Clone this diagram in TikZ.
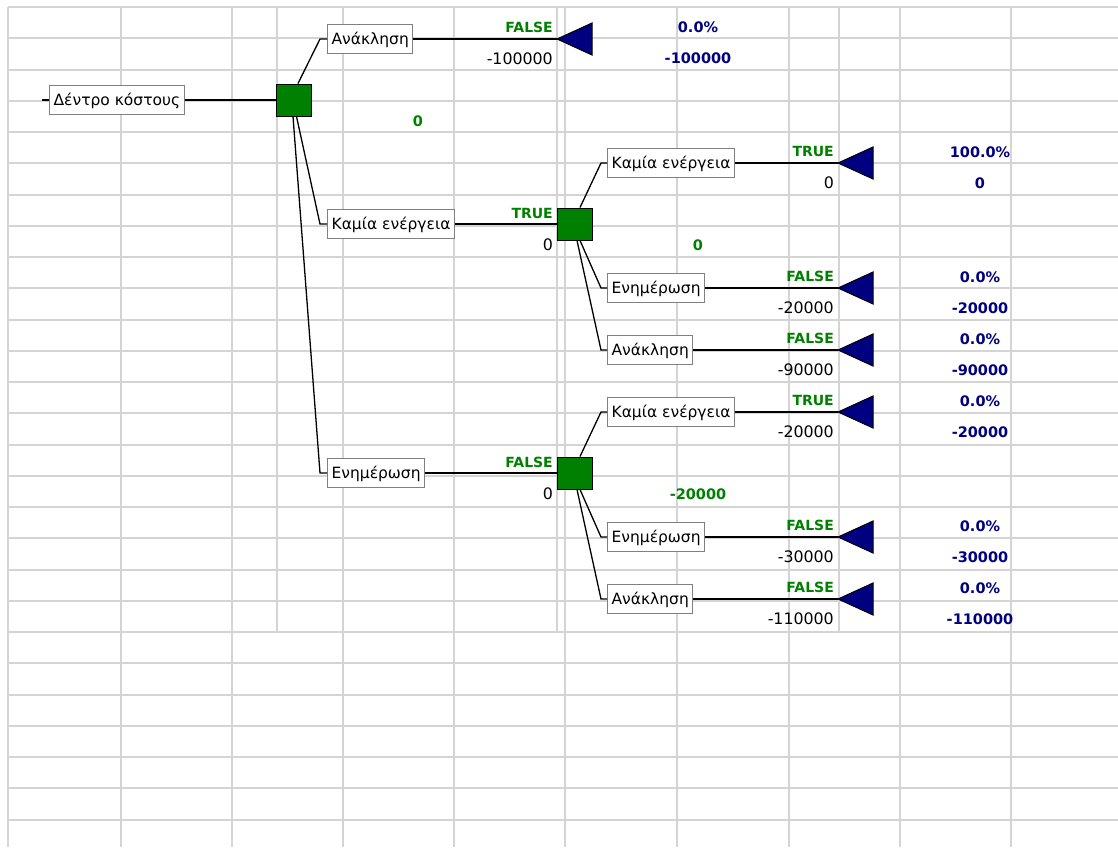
\documentclass[tikz,border=0pt]{standalone}
\usepackage{fontspec}
\setmainfont{DejaVu Sans}
\definecolor{dgreen}{RGB}{0,128,0}
\definecolor{dnavy}{RGB}{0,0,128}
\definecolor{gridc}{RGB}{212,212,212}
\definecolor{boxc}{RGB}{128,128,128}
\begin{document}
\begin{tikzpicture}[x=1pt,y=-1pt,
  gridline/.style={draw=gridc,line width=2pt},
  conn/.style={draw=black,line width=1.3pt},
  decnode/.style={draw=black,fill=dgreen,line width=1pt,minimum width=35pt,minimum height=32pt,inner sep=0pt},
  termtri/.style={draw=black,fill=dnavy,line width=1pt,line join=miter},
  branchbox/.style={draw=boxc,fill=white,line width=1.2pt,font=\fontsize{15.5}{18}\selectfont,inner xsep=4pt,inner ysep=0pt,text height=11.2pt,text depth=0pt,minimum height=29pt,anchor=west},
  tflab/.style={text=dgreen,font=\bfseries\fontsize{14}{16}\selectfont,anchor=east,inner sep=0pt},
  vallab/.style={text=black,font=\fontsize{15.8}{18}\selectfont,anchor=east,inner sep=0pt},
  problab/.style={text=dnavy,font=\bfseries\fontsize{14.5}{17}\selectfont,inner sep=0pt},
  evlab/.style={text=dgreen,font=\bfseries\fontsize{14.5}{17}\selectfont,inner sep=0pt}
]
\useasboundingbox[fill=white] (0,0) rectangle (1118,847);
% grid
\foreach \k in {0,...,26} \draw[gridline] (8,{7+31.25*\k}) -- (1118,{7+31.25*\k});
\foreach \xx in {8,121,232,277,343,454,557,565,677,789,839,900,1011} \draw[gridline] (\xx,7) -- (\xx,632);
\foreach \xx in {8,121,232,343,454,565,677,789,900,1011} \draw[gridline] (\xx,632) -- (\xx,847);

% root
\coordinate (rootin) at (42,100);
\node[branchbox] (root) at (49,100) {Δέντρο κόστους};
\node[decnode] (d1) at (293.5,100) {};
\draw[conn] (rootin) -- (root.west);
\draw[conn] (root.east) -- (d1.west);
\node[evlab] (ev1) at (418,121) {0};

% level 1
\node[branchbox] (b1) at (327,39) {Ανάκληση};
\node[branchbox] (b2) at (327,224) {Καμία ενέργεια};
\node[branchbox] (b3) at (327,473) {Ενημέρωση};
\coordinate (k1) at (320,39);
\coordinate (k2) at (320,224);
\coordinate (k3) at (320,473);
\draw[conn] ([xshift=4.5pt]d1.north) -- (k1) -- (b1.west);
\draw[conn] ([xshift=3pt]d1.south) -- (k2) -- (b2.west);
\draw[conn] ([xshift=-0.5pt]d1.south) -- (k3) -- (b3.west);

\coordinate (t1) at (557,39);
\draw[conn] (b1.east) -- (t1);
\draw[termtri] (t1) -- ++(35,-16) -- ++(0,32) -- cycle;
\node[tflab] (tf1) at (553,27.5) {FALSE};
\node[vallab] (v1) at (553,58.5) {-100000};
\node[problab] (p1) at (698,27) {0.0\%};
\node[problab] (r1) at (698,58.5) {-100000};

\node[decnode] (d2) at (574.5,224) {};
\draw[conn] (b2.east) -- (d2.west);
\node[tflab] (tf2) at (553,213) {TRUE};
\node[vallab] (v2) at (553,245) {0};
\node[evlab] (ev2) at (698,245) {0};

\node[decnode] (d3) at (574.5,473) {};
\draw[conn] (b3.east) -- (d3.west);
\node[tflab] (tf3) at (553,462.5) {FALSE};
\node[vallab] (v3) at (553,494) {0};
\node[evlab] (ev3) at (698,494) {-20000};

% level 2 under d2
\node[branchbox] (c1) at (607,163) {Καμία ενέργεια};
\node[branchbox] (c2) at (607,288) {Ενημέρωση};
\node[branchbox] (c3) at (607,350) {Ανάκληση};
\coordinate (m1) at (601,163);
\coordinate (m2) at (601,288);
\coordinate (m3) at (601,350);
\draw[conn] ([xshift=5.5pt]d2.north) -- (m1) -- (c1.west);
\draw[conn] ([xshift=5.5pt]d2.south) -- (m2) -- (c2.west);
\draw[conn] ([xshift=2.5pt]d2.south) -- (m3) -- (c3.west);

% level 2 under d3
\node[branchbox] (c4) at (607,412) {Καμία ενέργεια};
\node[branchbox] (c5) at (607,537) {Ενημέρωση};
\node[branchbox] (c6) at (607,599) {Ανάκληση};
\coordinate (m4) at (601,412);
\coordinate (m5) at (601,537);
\coordinate (m6) at (601,599);
\draw[conn] ([xshift=5.5pt]d3.north) -- (m4) -- (c4.west);
\draw[conn] ([xshift=5.5pt]d3.south) -- (m5) -- (c5.west);
\draw[conn] ([xshift=2.5pt]d3.south) -- (m6) -- (c6.west);

% terminals level 2
\foreach \i/\yy/\tf/\val/\pr in {1/163/TRUE/0/100.0\%, 2/288/FALSE/-20000/0.0\%, 3/350/FALSE/-90000/0.0\%, 4/412/TRUE/-20000/0.0\%, 5/537/FALSE/-30000/0.0\%, 6/599/FALSE/-110000/0.0\%}{
  \coordinate (s\i) at (838,\yy);
  \draw[conn] (c\i.east) -- (s\i);
  \draw[termtri] (s\i) -- ++(35,-16) -- ++(0,32) -- cycle;
  \node[tflab] (stf\i) at (834,\yy-11.5) {\tf};
  \node[vallab] (sv\i) at (834,\yy+20) {\val};
  \node[problab] (sp\i) at (980,\yy-11) {\pr};
  \node[problab] (sr\i) at (980,\yy+20) {\val};
}
\end{tikzpicture}
\end{document}
